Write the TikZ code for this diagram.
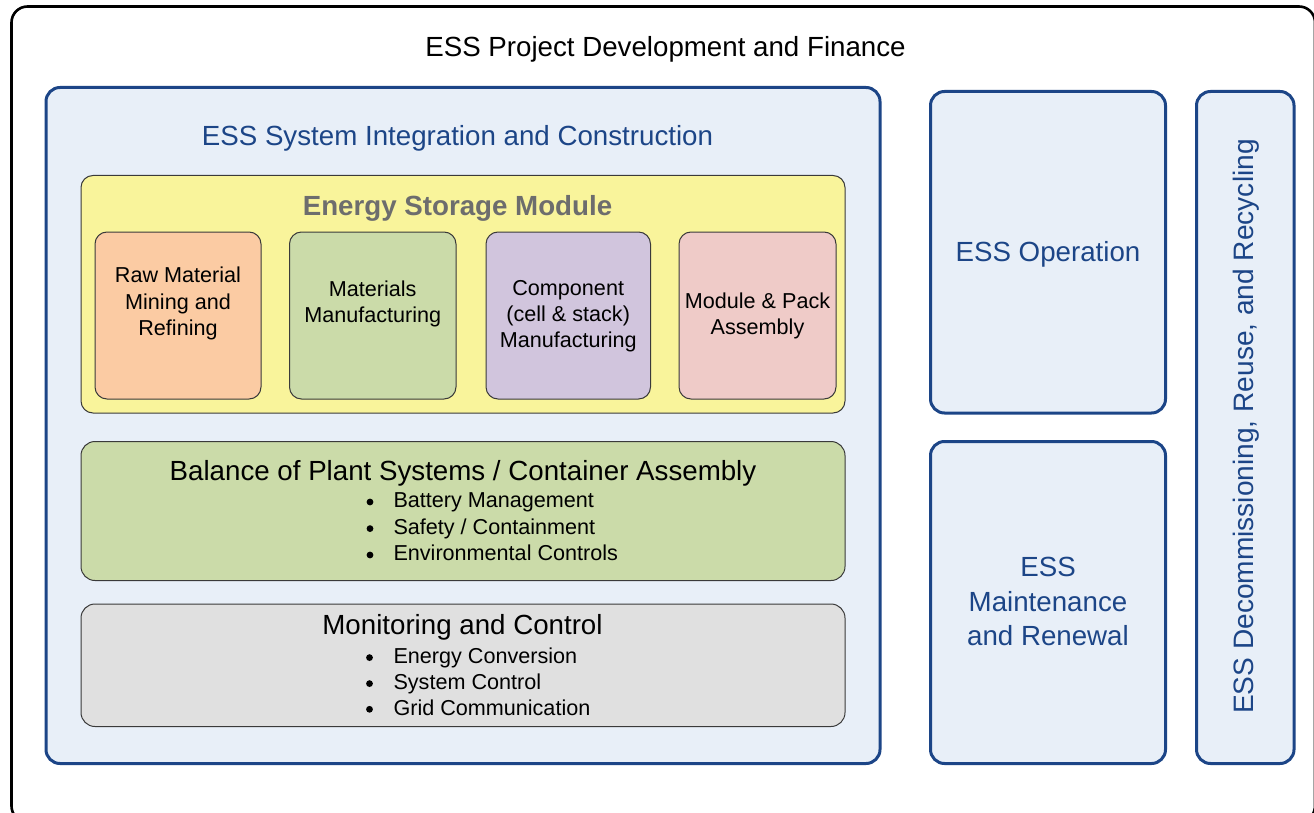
\documentclass[tikz,border=0pt]{standalone}
\usepackage{fontspec}
\setmainfont{Liberation Sans}
\definecolor{essblue}{HTML}{1C4587}
\definecolor{lightblue}{HTML}{E8EFF8}
\definecolor{esmyellow}{HTML}{F9F49B}
\definecolor{peach}{HTML}{FBCBA3}
\definecolor{sagegreen}{HTML}{CBDBA9}
\definecolor{lilac}{HTML}{D1C5DD}
\definecolor{rosepink}{HTML}{EFCBC8}
\definecolor{lightgray}{HTML}{E0E0E0}
\definecolor{titlegray}{HTML}{6D6D6D}
\definecolor{thinedge}{HTML}{3A3A3A}
\newcommand{\bigfont}{\fontsize{27.7}{34.2}\selectfont}
\newcommand{\smallfont}{\fontsize{21.6}{26.5}\selectfont}
\begin{document}
\begin{tikzpicture}[x=1pt,y=-1pt,
  outerframe/.style={draw=black,line width=2.6pt,rounded corners=16pt},
  bluebox/.style={draw=essblue,fill=lightblue,line width=3pt,rounded corners=14pt},
  thinbox/.style={draw=thinedge,line width=1pt,rounded corners=12pt},
  bigtext/.style={font=\bigfont,inner sep=0pt,anchor=base},
  bluetext/.style={bigtext,text=essblue},
  smalltext/.style={font=\smallfont,inner sep=0pt,anchor=base},
  bullettext/.style={font=\smallfont,inner sep=0pt,anchor=base west},
  bulletdot/.style={fill=black}]
\clip (0,0) rectangle (1314,813);
\fill[white] (0,0) rectangle (1314,813);
% outer frame
\draw[outerframe] (11.5,6.5) rectangle (1315,822);
\node[bigtext] (projtitle) at (665.5,57) {ESS Project Development and Finance};
% system integration box
\draw[bluebox] (46,87.5) rectangle (880,763.5);
\node[bluetext] (sititle) at (457.5,145.7) {ESS System Integration and Construction};
% energy storage module
\draw[thinbox,fill=esmyellow] (81,175.5) rectangle (845,413);
\node[bigtext,font=\bigfont\bfseries,text=titlegray] (esmtitle) at (457.5,215.5) {Energy Storage Module};
\draw[thinbox,fill=peach] (95,232) rectangle (261,399);
\draw[thinbox,fill=sagegreen] (289.5,232) rectangle (456,399);
\draw[thinbox,fill=lilac] (486,232) rectangle (650.5,399);
\draw[thinbox,fill=rosepink] (679,232) rectangle (836,399);
\node[smalltext] (raw1) at (178,282.7) {Raw Material};
\node[smalltext] (raw2) at (178,309.3) {Mining and};
\node[smalltext] (raw3) at (178,335.7) {Refining};
\node[smalltext] (mat1) at (372.7,296) {Materials};
\node[smalltext] (mat2) at (372.7,322) {Manufacturing};
\node[smalltext] (comp1) at (568.2,295) {Component};
\node[smalltext] (comp2) at (568.2,321.7) {(cell \& stack)};
\node[smalltext] (comp3) at (568.2,347.7) {Manufacturing};
\node[smalltext] (mod1) at (757.5,308.3) {Module \& Pack};
\node[smalltext] (mod2) at (757.5,334.3) {Assembly};
% balance of plant
\draw[thinbox,fill=sagegreen,rounded corners=14pt] (81,441.5) rectangle (845,580.5);
\node[bigtext] (boptitle) at (463,480) {Balance of Plant Systems / Container Assembly};
\node[bullettext] (bop1) at (393.3,507.7) {Battery Management};
\node[bullettext] (bop2) at (393.3,534.3) {Safety / Containment};
\node[bullettext] (bop3) at (393.3,560.7) {Environmental Controls};
\fill[bulletdot] (370,502) circle (3.4pt);
\fill[bulletdot] (370,528.6) circle (3.4pt);
\fill[bulletdot] (370,555) circle (3.4pt);
% monitoring and control
\draw[thinbox,fill=lightgray,rounded corners=14pt] (81,604) rectangle (845,726.5);
\node[bigtext] (mctitle) at (462.5,634.3) {Monitoring and Control};
\node[bullettext] (mc1) at (393.3,663.3) {Energy Conversion};
\node[bullettext] (mc2) at (393.3,689.3) {System Control};
\node[bullettext] (mc3) at (393.3,715) {Grid Communication};
\fill[bulletdot] (369.5,657.6) circle (3.4pt);
\fill[bulletdot] (369.5,683.6) circle (3.4pt);
\fill[bulletdot] (369.5,709.3) circle (3.4pt);
% right column
\draw[bluebox] (930.5,91.5) rectangle (1165.5,413);
\node[bluetext] (operation) at (1048,261) {ESS Operation};
\draw[bluebox] (930.5,441.5) rectangle (1165.5,763.5);
\node[bluetext] (maint1) at (1048,576.7) {ESS};
\node[bluetext] (maint2) at (1048,611) {Maintenance};
\node[bluetext] (maint3) at (1048,645) {and Renewal};
\draw[bluebox] (1196.5,91.5) rectangle (1294,763.5);
\node[bluetext,rotate=90,font=\fontsize{28.1}{34}\selectfont] (decom) at (1253.3,426.5) {ESS Decommissioning, Reuse, and Recycling};
\end{tikzpicture}
\end{document}
